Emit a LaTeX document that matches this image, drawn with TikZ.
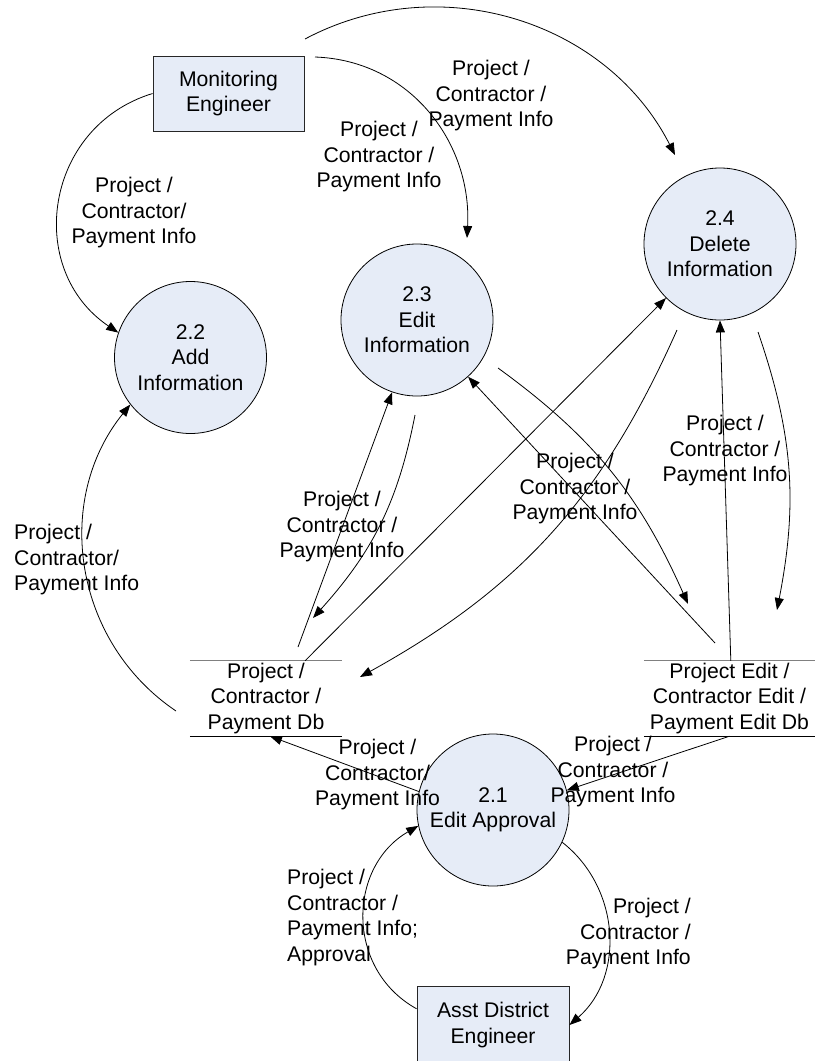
\documentclass[tikz,border=0pt]{standalone}
\usepackage{fontspec}
\setmainfont{Liberation Sans}
\usetikzlibrary{arrows.meta}
\definecolor{procfill}{RGB}{230,236,247}
\begin{document}
\begin{tikzpicture}[x=1pt,y=1pt,
  every node/.style={font=\fontsize{21.2pt}{25.5pt}\selectfont, inner sep=0pt, align=center},
  entity/.style={draw=black!85, line width=0.9pt, fill=procfill, minimum width=151pt, minimum height=75pt},
  process/.style={circle, draw=black, line width=0.8pt, fill=procfill, minimum size=152pt},
  store/.style={minimum width=152pt, minimum height=75pt},
  storetop/.style={draw=black!50, line width=1.3pt},
  storebottom/.style={draw=black, line width=0.8pt},
  flow/.style={line width=0.8pt, -{Triangle[length=12pt,width=9pt]}}
]
\useasboundingbox (0,0) rectangle (815,-1061);

% external entities
\node[entity] (me) at (228.5,-93.5) {Monitoring\\Engineer};
\node[entity, minimum width=152pt, minimum height=78pt] (ade) at (493,-1025) {Asst District\\Engineer};

% processes
\node[process] (p22) at (190.5,-357.5) {2.2\\Add\\Information};
\node[process] (p23) at (417,-320) {2.3\\Edit\\Information};
\node[process] (p24) at (720,-244) {2.4\\Delete\\Information};
\node[process] (p21) at (493,-810) {2.1\\Edit Approval};

% data stores
\node[store] (ds1) at (266,-698.5) {Project /\\Contractor /\\Payment Db};
\node[store, minimum width=171pt] (ds2) at (729.5,-698.5) {Project Edit /\\Contractor Edit /\\Payment Edit Db};
\draw[storetop] (ds1.north west) -- (ds1.north east);
\draw[storebottom] (ds1.south west) -- (ds1.south east);
\draw[storetop] (ds2.north west) -- (ds2.north east);
\draw[storebottom] (ds2.south west) -- (ds2.south east);

% loose connector ends
\coordinate (c2s) at (315,-57);
\coordinate (c2e) at (467,-238);
\coordinate (c3s) at (305,-39);
\coordinate (c3e) at (675,-155);
\coordinate (c4s) at (176,-711);
\coordinate (c5s) at (298,-647);
\coordinate (c6s) at (415,-415);
\coordinate (c6e) at (313,-618);
\coordinate (c8s) at (677,-330);
\coordinate (c8e) at (360,-677);
\coordinate (c9s) at (715,-643);
\coordinate (c10s) at (498,-368);
\coordinate (c10e) at (688,-604);
\coordinate (c12s) at (758,-332);
\coordinate (c12e) at (777,-610);

% data flows
\draw[flow] (me.west) to[out=197,in=146,looseness=1.2] (p22.161);
\draw[flow] (c2s) to[out=-2,in=87,looseness=1.03] (c2e);
\draw[flow] (c3s) to[out=28,in=117] (c3e);
\draw[flow] (c4s) to[out=146,in=231,looseness=1.02] (p22.218);
\draw[flow] (c5s) -- (p23.251);
\draw[flow] (c6s) to[out=259,in=48] (c6e);
\draw[flow] (ds1.44) -- (p24.225);
\draw[flow] (c8s) to[out=246,in=29] (c8e);
\draw[flow] (c9s) -- (p23.312);
\draw[flow] (c10s) to[out=-36,in=114] (c10e);
\draw[flow] (ds2.88) -- (p24.south);
\draw[flow] (c12s) to[out=-71,in=79] (c12e);
\draw[flow] (p21.166) -- (ds1.-84);
\draw[flow] (ds2.south) -- (p21.15);
\draw[flow] (ade.168) to[out=151,in=210,looseness=1.14] (p21.192);
\draw[flow] (p21.335) to[out=-38,in=41,looseness=1.03] (ade.east);

% flow labels
\node (l1) at (134,-213) {Project /\\Contractor/\\Payment Info};
\node (l2) at (379,-157) {Project /\\Contractor /\\Payment Info};
\node (l3) at (491,-96) {Project /\\Contractor /\\Payment Info};
\node[anchor=west, align=left] (l4) at (14,-560) {Project /\\Contractor/\\Payment Info};
\node (l5) at (342,-527) {Project /\\Contractor /\\Payment Info};
\node (l6) at (575,-489) {Project /\\Contractor /\\Payment Info};
\node (l7) at (725,-451) {Project /\\Contractor /\\Payment Info};
\node (l8) at (377.5,-775) {Project /\\Contractor/\\Payment Info};
\node (l9) at (613,-772) {Project /\\Contractor /\\Payment Info};
\node[anchor=west, align=left] (l10) at (287,-917.5) {Project /\\Contractor /\\Payment Info;\\Approval};
\node[anchor=east, align=right] (l11) at (691,-934) {Project /\\Contractor /\\Payment Info};
\end{tikzpicture}
\end{document}
